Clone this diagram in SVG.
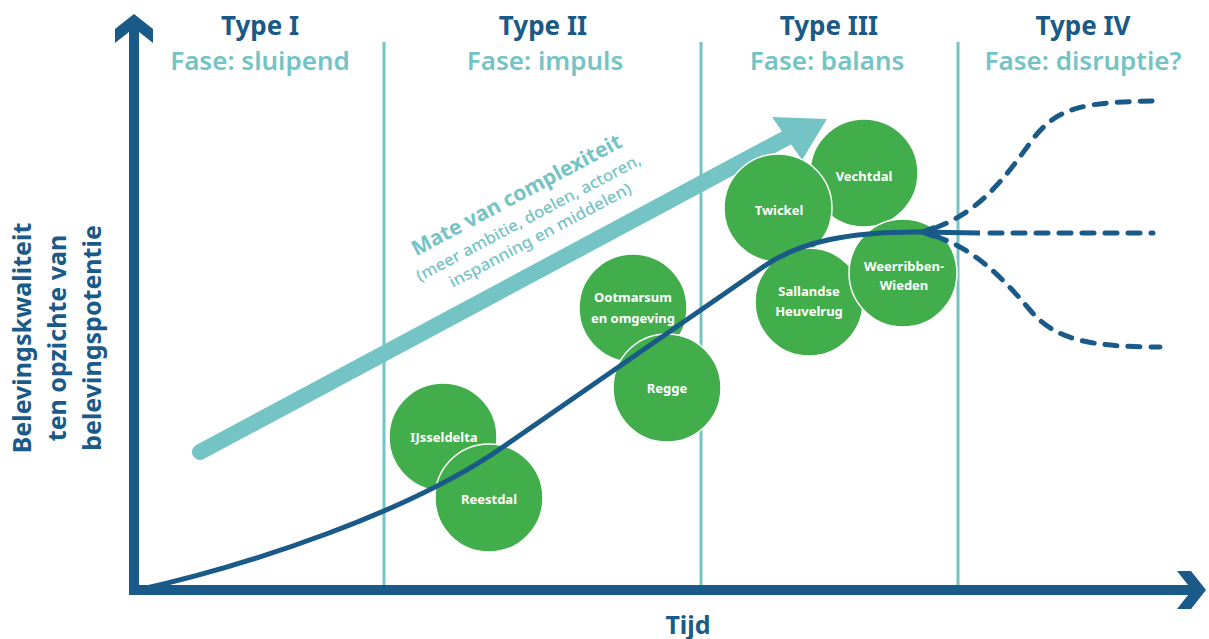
<svg xmlns="http://www.w3.org/2000/svg" width="1209" height="639" viewBox="0 0 1209 639">
<style>
.hdr{font-family:"Noto Sans","DejaVu Sans",sans-serif;font-weight:700;font-size:26px;fill:#1A5A88;text-anchor:middle}
.fase{font-family:"Noto Sans","DejaVu Sans",sans-serif;font-weight:600;font-size:26px;fill:#74C4C6;text-anchor:middle}
.axl{font-family:"Noto Sans","DejaVu Sans",sans-serif;font-weight:700;font-size:25px;fill:#1A5A88;text-anchor:middle}
.div{stroke:#74C4C6;stroke-width:3;fill:none}
.node circle{fill:#42AE4B;stroke:#fff;stroke-width:1.5}
.node text{font-family:"Noto Sans","DejaVu Sans",sans-serif;font-weight:700;font-size:13px;fill:#fff;text-anchor:middle}
.cx{font-family:"Noto Sans","DejaVu Sans",sans-serif;fill:#74C4C6;text-anchor:middle}
.dash{fill:none;stroke:#1A5A88;stroke-width:5;stroke-linecap:round;stroke-dasharray:12 11}
</style>
<rect width="1209" height="639" fill="#fff"/>
<!-- dividers -->
<line class="div" x1="384" y1="42" x2="384" y2="586"/>
<line class="div" x1="701" y1="42" x2="701" y2="586"/>
<line class="div" x1="958" y1="42" x2="958" y2="586"/>
<!-- headers -->
<text class="hdr" x="260" y="35">Type I</text>
<text class="fase" x="260" y="70">Fase: sluipend</text>
<text class="hdr" x="543" y="35">Type II</text>
<text class="fase" x="545" y="70">Fase: impuls</text>
<text class="hdr" x="829" y="35">Type III</text>
<text class="fase" x="827" y="70">Fase: balans</text>
<text class="hdr" x="1083" y="35">Type IV</text>
<text class="fase" x="1083" y="70">Fase: disruptie?</text>
<!-- complexity arrow -->
<g id="complexiteit">
<line x1="200" y1="452" x2="790" y2="136" stroke="#74C4C6" stroke-width="16" stroke-linecap="round"/>
<polygon points="772,117 827,119 802,160" fill="#74C4C6"/>
<g transform="translate(517,196) rotate(-28)">
<text class="cx" x="0" y="6" font-size="21" font-weight="700">Mate van complexiteit</text>
<text class="cx" x="0" y="30" font-size="16" font-weight="500" textLength="252" lengthAdjust="spacingAndGlyphs">(meer ambitie, doelen, actoren,</text>
<text class="cx" x="2" y="51" font-size="16" font-weight="500" textLength="204" lengthAdjust="spacingAndGlyphs">inspanning en middelen)</text>
</g>
</g>
<!-- axes -->
<g id="axes" fill="#1A5A88">
<rect x="129" y="24" width="10" height="571"/>
<polygon points="115,29 134,14 153,29 153,43 134,28 115,43"/>
<rect x="129" y="585" width="1066" height="10"/>
<polygon points="1191,571 1206,590 1191,609 1177,609 1192,590 1177,571"/>
</g>
<g transform="translate(31,338) rotate(-90)"><text class="axl" x="0" y="0">Belevingskwaliteit</text></g>
<g transform="translate(66,338) rotate(-90)"><text class="axl" x="0" y="0">ten opzichte van</text></g>
<g transform="translate(101,338) rotate(-90)"><text class="axl" x="0" y="0">belevingspotentie</text></g>
<text class="axl" x="688" y="634" font-size="28">Tijd</text>
<!-- nodes -->
<g id="ijsseldelta" class="node"><circle cx="443" cy="437" r="54"/><text x="444" y="442">IJsseldelta</text></g>
<g id="reestdal" class="node"><circle cx="489" cy="498" r="54"/><text x="489" y="504">Reestdal</text></g>
<g id="ootmarsum" class="node"><circle cx="633" cy="308" r="54"/><text x="633" y="302">Ootmarsum</text><text x="633" y="323">en omgeving</text></g>
<g id="regge" class="node"><circle cx="667" cy="388" r="54"/><text x="667" y="393">Regge</text></g>
<g id="vechtdal" class="node"><circle cx="864" cy="173" r="54"/><text x="864" y="181">Vechtdal</text></g>
<g id="twickel" class="node"><circle cx="778" cy="208" r="54"/><text x="779" y="215">Twickel</text></g>
<g id="sallandse" class="node"><circle cx="809" cy="302" r="54"/><text x="809" y="296">Sallandse</text><text x="809" y="316">Heuvelrug</text></g>
<g id="weerribben" class="node"><circle cx="903" cy="273" r="54"/><text x="904" y="271">Weerribben-</text><text x="904" y="290">Wieden</text></g>
<!-- connectors -->
<g id="connectors">
<path d="M138,590 C250,565 410,512 503,447 L763,267 C800,241 850,232 917,232 L980,233" fill="none" stroke="#1A5A88" stroke-width="5" stroke-linejoin="round"/>
<polygon points="915,232 934,225 934,239" fill="#1A5A88"/>
<path class="dash" d="M990,233 L1153,233"/>
<path class="dash" d="M935,228 C978,212 1002,182 1030,143 C1055,108 1080,102 1155,101"/>
<path class="dash" d="M935,236 C975,250 1000,275 1030,310 C1055,340 1090,347 1160,347"/>
</g>
</svg>
